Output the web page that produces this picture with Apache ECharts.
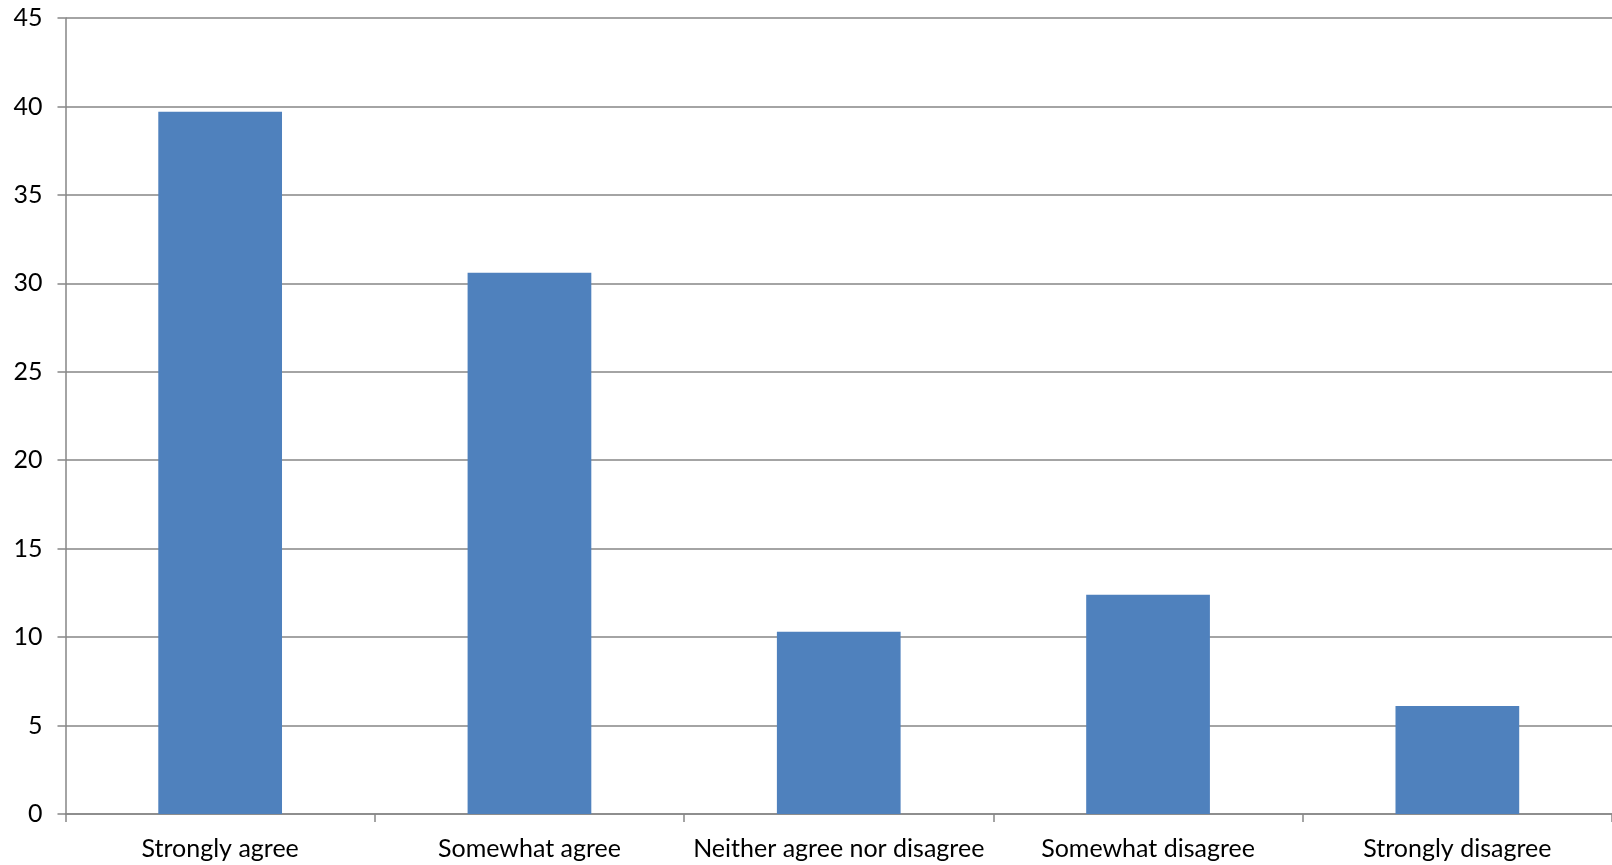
<!DOCTYPE html>
<html>
<head>
<meta charset="utf-8">
<script src="https://cdn.jsdelivr.net/npm/echarts@6/dist/echarts.min.js"></script>
<style>
html,body{margin:0;padding:0;background:#fff;}
#chart{width:1612px;height:865px;}
</style>
</head>
<body>
<div id="chart"></div>
<script>
const categories = ["Strongly agree", "Somewhat agree", "Neither agree nor disagree", "Somewhat disagree", "Strongly disagree"];
const values = [39.7, 30.6, 10.3, 12.4, 6.1];
const yTicks = [0, 5, 10, 15, 20, 25, 30, 35, 40, 45];

const chart = echarts.init(document.getElementById('chart'));
const axisColor = '#868686';
chart.setOption({
  animation: false,
  backgroundColor: '#ffffff',
  grid: { left: 65.5, right: 0, top: 18, bottom: 51, containLabel: false },
  xAxis: {
    type: 'category',
    data: categories,
    axisLine: { lineStyle: { color: axisColor, width: 1.5 } },
    axisTick: { show: true, alignWithLabel: false, length: 8, lineStyle: { color: axisColor, width: 1.5 } },
    axisLabel: { interval: 0, color: '#000', fontFamily: 'Lato, "Open Sans", sans-serif', fontSize: 25, margin: 22 },
    splitLine: { show: false }
  },
  yAxis: {
    type: 'value',
    min: yTicks[0],
    max: yTicks[yTicks.length - 1],
    interval: yTicks[1] - yTicks[0],
    axisLine: { show: true, lineStyle: { color: axisColor, width: 1.5 } },
    axisTick: { show: true, length: 8, lineStyle: { color: axisColor, width: 1.5 } },
    axisLabel: { color: '#000', fontFamily: 'Lato, "Open Sans", sans-serif', fontSize: 25, margin: 23 },
    splitLine: { show: true, lineStyle: { color: axisColor, width: 1.5 } }
  },
  series: [{
    type: 'bar',
    data: values,
    barWidth: '40%',
    itemStyle: { color: '#4F81BD' }
  }]
});
</script>
</body>
</html>
